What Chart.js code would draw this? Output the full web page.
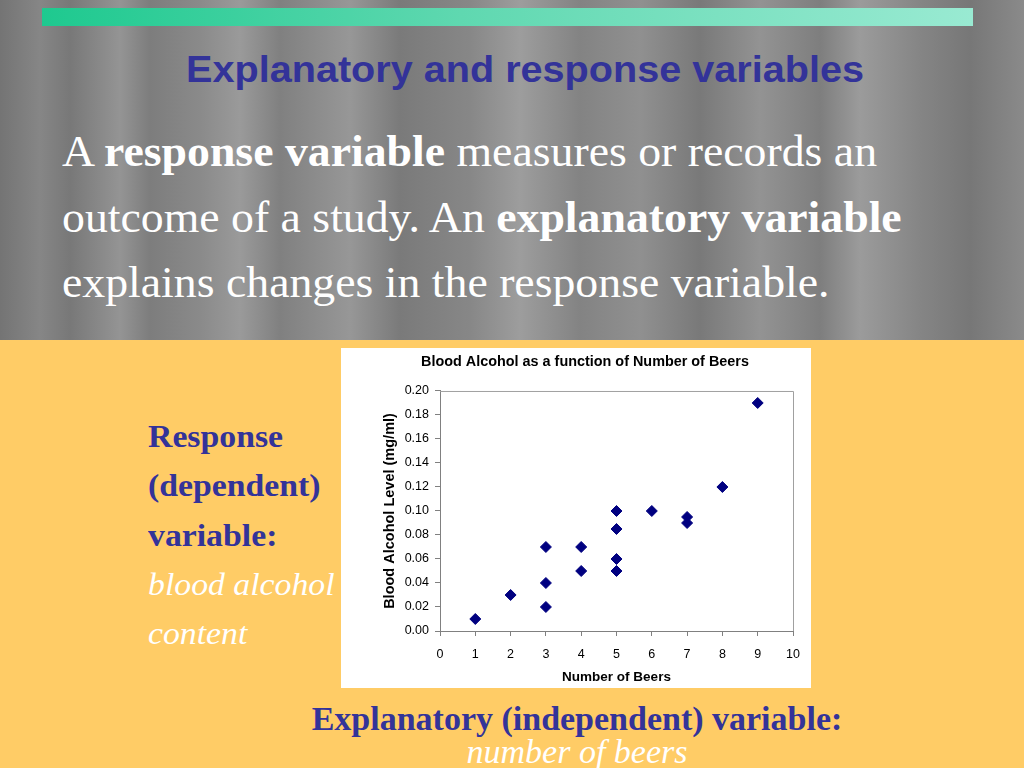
<!DOCTYPE html>
<html>
<head>
<meta charset="utf-8">
<script src="https://cdn.jsdelivr.net/npm/chart.js@4"></script>
<style>
  html, body { margin: 0; padding: 0; }
  body { width: 1024px; height: 768px; position: relative; overflow: hidden; background: #ffcc66; }
  .top {
    position: absolute; left: 0; top: 0; width: 1024px; height: 340px;
    background:
      linear-gradient(90deg, #747474 0px, #868686 40px, #787878 70px, #949494 120px, #7d7d7d 150px,
        #8a8a8a 200px, #9a9a9a 240px, #808080 280px, #979797 350px, #7a7a7a 400px, #878787 470px,
        #9d9d9d 520px, #838383 580px, #909090 640px, #797979 700px, #939393 760px, #7e7e7e 820px,
        #9b9b9b 860px, #858585 920px, #777777 970px, #8a8a8a 1024px);
  }
  .bar {
    position: absolute; left: 42px; top: 8px; width: 931px; height: 18px;
    background: linear-gradient(90deg, #1ec98f, #5fd8b0 45%, #99ead2);
  }
  .title {
    position: absolute; left: 0; width: 1050px; top: 49px; text-align: center;
    font: bold 36px "Liberation Sans", Arial, sans-serif; color: #333399;
    transform: scaleX(1.1); transform-origin: 525px 0;
  }
  .body {
    position: absolute; left: 62px; top: 119px; width: 960px;
    font: 44px/65.5px "Liberation Serif", "Times New Roman", serif; color: #ffffff;
    transform: scaleX(1.04); transform-origin: 0 0;
  }
  .side {
    position: absolute; left: 148px; top: 412px;
    font: bold 32px/49.3px "Liberation Serif", serif; color: #333399;
    transform: scaleX(1.055); transform-origin: 0 0;
  }
  .side i { font-weight: normal; color: #ffffff; }
  .bottom {
    position: absolute; left: 0; width: 1154px; top: 703px; text-align: center;
    font: bold 33px/33px "Liberation Serif", serif; color: #333399;
    transform: scaleX(1.03); transform-origin: 577px 0;
  }
  .bottom i { font-weight: normal; color: #ffffff; }
  .chartbox { position: absolute; left: 341px; top: 348px; width: 470px; height: 340px; background: #ffffff; }
</style>
</head>
<body>
<div class="top"></div>
<div class="bar"></div>
<div class="title">Explanatory and response variables</div>
<div class="body">A <b>response variable</b> measures or records an<br>outcome of a study. An <b>explanatory variable</b><br>explains changes in the response variable.</div>
<div class="side">Response<br>(dependent)<br>variable:<br><i>blood alcohol<br>content</i></div>
<div class="bottom">Explanatory (independent) variable:<br><i>number of beers</i></div>
<div class="chartbox"><canvas id="myChart" width="470" height="340"></canvas></div>
<script>
// Blood alcohol vs number of beers
const beers = [1, 2, 3, 3, 3, 4, 4, 5, 5, 5, 5, 6, 7, 7, 8, 9];
const bac = [0.01, 0.03, 0.07, 0.04, 0.02, 0.07, 0.05, 0.10, 0.085, 0.06, 0.05, 0.10, 0.095, 0.09, 0.12, 0.19];
const xTicks = [0, 1, 2, 3, 4, 5, 6, 7, 8, 9, 10];
const yTicks = [0, 0.02, 0.04, 0.06, 0.08, 0.10, 0.12, 0.14, 0.16, 0.18, 0.20];

const plotFrame = {
  id: 'plotFrame',
  afterDraw(chart) {
    const a = chart.chartArea, ctx = chart.ctx;
    ctx.save();
    ctx.strokeStyle = '#a0a0a0';
    ctx.lineWidth = 1;
    ctx.beginPath();
    ctx.moveTo(a.left, a.top + 0.5);
    ctx.lineTo(a.right + 0.5, a.top + 0.5);
    ctx.lineTo(a.right + 0.5, a.bottom);
    ctx.stroke();
    ctx.restore();
  }
};

new Chart("myChart", {
  type: "scatter",
  data: {
    datasets: [{
      data: beers.map((b, i) => ({x: b, y: bac[i]})),
      backgroundColor: "#000080",
      borderColor: "#000080",
      pointStyle: "rectRot",
      pointRadius: 5.5,
      pointHoverRadius: 5.5
    }]
  },
  options: {
    responsive: false,
    animation: false,
    layout: {padding: {left: 36, right: 18, top: 0, bottom: 0}},
    plugins: {
      legend: {display: false},
      tooltip: {enabled: false},
      title: {
        display: true,
        text: "Blood Alcohol as a function of Number of Beers",
        color: "#000",
        font: {family: "Liberation Sans", size: 14.4, weight: "bold"},
        padding: {top: 5, bottom: 20.7}
      }
    },
    scales: {
      x: {
        type: "linear", min: 0, max: 10,
        afterBuildTicks: s => { s.ticks = xTicks.map(v => ({value: v})); },
        afterFit: s => { s.height = 57; },
        ticks: {color: "#000", font: {family: "Liberation Sans", size: 12.5}, padding: 11},
        grid: {drawOnChartArea: false, tickLength: 5, color: "#808080"},
        border: {color: "#808080"},
        title: {display: true, text: "Number of Beers", color: "#000",
                font: {family: "Liberation Sans", size: 13.5, weight: "bold"}, padding: {top: 4, bottom: 3}}
      },
      y: {
        type: "linear", min: 0, max: 0.2,
        afterBuildTicks: s => { s.ticks = yTicks.map(v => ({value: v})); },
        afterFit: s => { s.width = 63; },
        ticks: {color: "#000", font: {family: "Liberation Sans", size: 12.5}, padding: 6,
                callback: v => v.toFixed(2)},
        grid: {drawOnChartArea: false, tickLength: 5, color: "#808080"},
        border: {color: "#808080"},
        title: {display: true, text: "Blood Alcohol Level (mg/ml)", color: "#000",
                font: {family: "Liberation Sans", size: 14.5, weight: "bold"}, padding: {top: 4, bottom: 4}}
      }
    }
  },
  plugins: [plotFrame]
});
</script>
</body>
</html>
